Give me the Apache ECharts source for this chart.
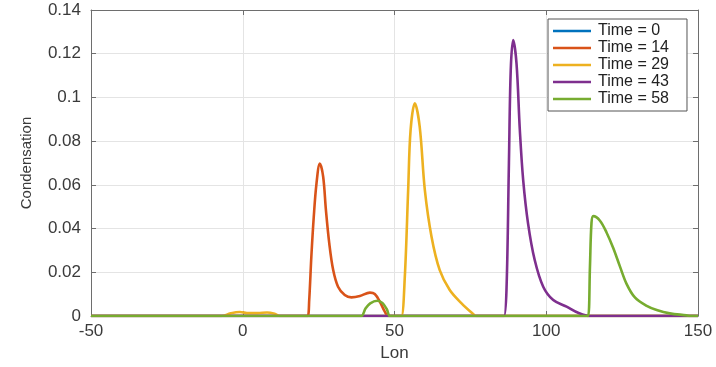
<!DOCTYPE html>
<html>
<head>
<meta charset="utf-8">
<script src="https://cdn.jsdelivr.net/npm/echarts@6/dist/echarts.min.js"></script>
<style>
  html, body { margin: 0; padding: 0; background: #fff; }
  #container { width: 716px; height: 367px; }
</style>
</head>
<body>
<div id="container"></div>
<script>
// values: lon positions and condensation for every time step
const seriesNames = ['Time = 0', 'Time = 14', 'Time = 29', 'Time = 43', 'Time = 58'];
const seriesColors = ['#0072BD', '#D95319', '#EDB120', '#7E2F8E', '#77AC30'];

const lonT0 = [-50, 150];
const valT0 = [0, 0];

const lonT14 = [-50, 20.5, 21.4, 21.9, 22.6, 23.4, 24.3, 25.4, 26.5, 27.4, 28.5, 29.8, 31.4, 33.6, 35.8, 38.6, 41.9, 43.5, 45.2, 46.8, 47.9, 49, 150];
const valT14 = [0, 0, 0, 0.0073, 0.0271, 0.0454, 0.0607, 0.0698, 0.0637, 0.0485, 0.0333, 0.021, 0.0134, 0.0096, 0.0085, 0.0091, 0.0107, 0.0101, 0.0065, 0.002, 0, 0, 0];

const lonT29 = [-50, -8, -7, -4, -1, 2, 5, 8, 10.5, 12.2, 13, 51.5, 52.3, 53.4, 54.5, 55.3, 56.7, 58.3, 60.0, 62.2, 64.9, 68.2, 72.1, 75.9, 76.8, 78, 150];
const valT29 = [0, 0, 0, 0.0012, 0.0018, 0.0013, 0.0013, 0.0016, 0.001, 0, 0, 0, 0, 0.018, 0.0576, 0.085, 0.0973, 0.0866, 0.0576, 0.0363, 0.021, 0.0119, 0.0058, 0.0009, 0, 0, 0];

const lonT43 = [-50, 85.3, 86.1, 86.9, 87.7, 88.3, 89.1, 90.2, 91.3, 92.4, 94.0, 96.2, 99.0, 102.3, 106.7, 110.5, 114.4, 115.5, 150];
const valT43 = [0, 0, 0, 0.012, 0.070, 0.1125, 0.1263, 0.1156, 0.085, 0.0622, 0.0424, 0.0256, 0.0134, 0.0073, 0.0043, 0.0015, 0, 0, 0];

const lonT58 = [-50, 38.2, 39.1, 40.5, 42, 44.3, 46, 47.5, 48.4, 49.2, 113, 113.8, 114.4, 114.9, 115.5, 117.7, 119.9, 122.1, 124.3, 126.5, 129.2, 133.1, 136.4, 140.7, 146.2, 147.5, 150];
const valT58 = [0, 0, 0, 0.0035, 0.0058, 0.007, 0.006, 0.003, 0, 0, 0, 0, 0.0226, 0.0424, 0.0457, 0.0436, 0.0381, 0.031, 0.0226, 0.0146, 0.0085, 0.0046, 0.0027, 0.0012, 0.0003, 0, 0];

const lonData = [lonT0, lonT14, lonT29, lonT43, lonT58];
const valData = [valT0, valT14, valT29, valT43, valT58];

const xTicks = { min: -50, max: 150, interval: 50 };
const yTicks = { min: 0, max: 0.14, interval: 0.02 };

let myChart = echarts.init(document.getElementById('container'));

const frameColor = '#6e6e6e';
const textColor = '#3a3a3a';
const fontFamily = '"Liberation Sans", Arial, sans-serif';

let series = seriesNames.map(function (name, i) {
    return {
        name: name,
        type: 'line',
        xAxisIndex: 0,
        yAxisIndex: 0,
        data: lonData[i].map(function (lon, j) { return [lon, valData[i][j]]; }),
        symbol: 'none',
        smooth: 0.35,
        lineStyle: { width: 2.6, color: seriesColors[i] },
        itemStyle: { color: seriesColors[i] },
        z: 2 + i
    };
});

myChart.setOption({
    animation: false,
    grid: { left: 91, right: 18, top: 10, bottom: 51, containLabel: false },
    legend: {
        orient: 'vertical',
        left: 548,
        top: 19,
        data: seriesNames,
        icon: 'rect',
        itemWidth: 38,
        itemHeight: 2.5,
        itemGap: 1,
        padding: [4, 18, 4, 5],
        backgroundColor: '#fff',
        borderColor: '#555',
        borderWidth: 1,
        borderRadius: 0,
        textStyle: { fontSize: 16, color: '#222', fontFamily: fontFamily, padding: [0, 0, 0, 2] }
    },
    xAxis: [{
        type: 'value',
        min: xTicks.min, max: xTicks.max, interval: xTicks.interval,
        position: 'bottom',
        name: 'Lon',
        nameLocation: 'middle',
        nameGap: 28,
        nameTextStyle: { fontSize: 17, color: textColor, fontFamily: fontFamily },
        axisLine: { show: true, onZero: false, lineStyle: { color: frameColor, width: 1 } },
        axisTick: { show: true, inside: true, length: 5, lineStyle: { color: frameColor } },
        axisLabel: { fontSize: 17, color: textColor, fontFamily: fontFamily, margin: 7 },
        splitLine: { show: true, lineStyle: { color: '#e4e4e4', width: 1 } }
    }, {
        type: 'value',
        min: xTicks.min, max: xTicks.max, interval: xTicks.interval,
        position: 'top',
        axisLine: { show: true, onZero: false, lineStyle: { color: frameColor, width: 1 } },
        axisTick: { show: true, inside: true, length: 5, lineStyle: { color: frameColor } },
        axisLabel: { show: false },
        splitLine: { show: false }
    }],
    yAxis: [{
        type: 'value',
        min: yTicks.min, max: yTicks.max, interval: yTicks.interval,
        position: 'left',
        name: 'Condensation',
        nameLocation: 'middle',
        nameGap: 57,
        nameTextStyle: { fontSize: 15, color: textColor, fontFamily: fontFamily },
        axisLine: { show: true, onZero: false, lineStyle: { color: frameColor, width: 1 } },
        axisTick: { show: true, inside: true, length: 5, lineStyle: { color: frameColor } },
        axisLabel: {
            fontSize: 17, color: textColor, fontFamily: fontFamily, margin: 10,
            formatter: function (v) { return String(+v.toFixed(2)); }
        },
        splitLine: { show: true, lineStyle: { color: '#e4e4e4', width: 1 } }
    }, {
        type: 'value',
        min: yTicks.min, max: yTicks.max, interval: yTicks.interval,
        position: 'right',
        axisLine: { show: true, onZero: false, lineStyle: { color: frameColor, width: 1 } },
        axisTick: { show: true, inside: true, length: 5, lineStyle: { color: frameColor } },
        axisLabel: { show: false },
        splitLine: { show: false }
    }],
    series: series
});
</script>
</body>
</html>
